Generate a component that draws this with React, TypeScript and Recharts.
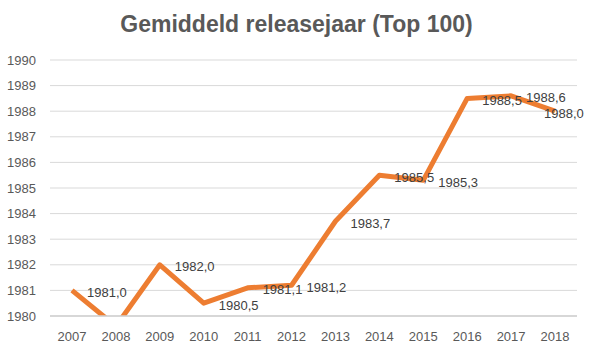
import React from "react";
import { LineChart, Line, XAxis, YAxis, CartesianGrid } from "recharts";

const years = ["2007", "2008", "2009", "2010", "2011", "2012", "2013", "2014", "2015", "2016", "2017", "2018"];
const avgReleaseYear = [1981.0, 1979.6, 1982.0, 1980.5, 1981.1, 1981.2, 1983.7, 1985.5, 1985.3, 1988.5, 1988.6, 1988.0];
const yTicks = [1980, 1981, 1982, 1983, 1984, 1985, 1986, 1987, 1988, 1989, 1990];
const title = "Gemiddeld releasejaar (Top 100)";

const data = years.map((y, i) => ({ year: y, value: avgReleaseYear[i] }));

const FONT = "'Liberation Sans', Arial, sans-serif";

const renderLabel = (props: any) => {
  const { x, y, value } = props;
  if (value == null || value < 1980) return null;
  const text = Number(value).toFixed(1).replace(".", ",");
  const w = 40;
  let lx = x + 15;
  if (lx + w > 584) lx = 584 - w;
  return (
    <text x={lx} y={y + 2} dy="0.35em" textAnchor="start" fontSize={13} fontFamily={FONT} fill="#404040">
      {text}
    </text>
  );
};

export default function App() {
  return (
    <div style={{ position: "absolute", left: 0, top: 0, width: 593, height: 353, background: "#fff" }}>
      <div
        style={{
          position: "absolute",
          left: 0,
          top: 11,
          width: 593,
          textAlign: "center",
          fontFamily: FONT,
          fontWeight: "bold",
          fontSize: 23,
          color: "#595959",
        }}
      >
        {title}
      </div>
      <LineChart width={593} height={353} data={data} margin={{ top: 60, right: 16, bottom: 7, left: 0 }}>
        <CartesianGrid horizontal vertical={false} stroke="#d9d9d9" strokeWidth={1} />
        <XAxis
          dataKey="year"
          height={30}
          padding={{ left: 22, right: 22 }}
          tickLine={false}
          tickSize={0}
          tickMargin={16}
          axisLine={{ stroke: "#d0d0d0", strokeWidth: 1.5 }}
          tick={{ fill: "#595959", fontSize: 13, fontFamily: FONT }}
          interval={0}
        />
        <YAxis
          width={50}
          domain={[1980, 1990]}
          ticks={yTicks}
          allowDataOverflow
          tickLine={false}
          axisLine={false}
          tickSize={0}
          tickMargin={14}
          tick={{ fill: "#595959", fontSize: 13, fontFamily: FONT }}
          interval={0}
        />
        <Line
          type="linear"
          dataKey="value"
          stroke="#ED7D31"
          strokeWidth={5}
          strokeLinejoin="round"
          dot={false}
          activeDot={false}
          isAnimationActive={false}
          label={renderLabel}
        />
      </LineChart>
    </div>
  );
}
